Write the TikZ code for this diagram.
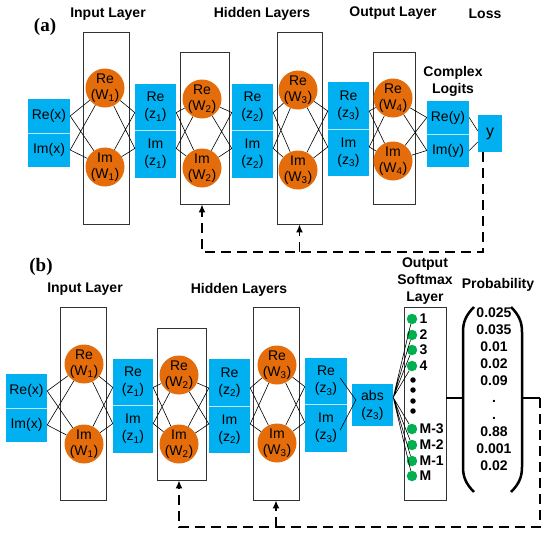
\documentclass[tikz,border=0pt]{standalone}
\usepackage{fontspec}
\setmainfont{Liberation Sans}
\newfontfamily\serifb{Liberation Serif}
\usepackage{tikz}
\usetikzlibrary{arrows.meta}
\definecolor{hblau}{RGB}{0,176,240}
\definecolor{orang}{RGB}{228,108,10}
\definecolor{gruen}{RGB}{0,176,80}
\definecolor{trennlinie}{RGB}{185,232,252}
\newcommand{\kreuz}[4] {
	\draw[verb] (#1) -- (#3) (#1) -- (#4) (#2) -- (#3) (#2) -- (#4);
}

\begin{document}
\begin{tikzpicture}[x=1pt,y=-1pt,
		blau/.style={fill=hblau,inner sep=0pt,align=center,font=\fontsize{14}{17}\selectfont},
		neuron/.style={circle,fill=orang,minimum size=39pt,inner sep=-2pt,align=center,font=\fontsize{14}{16}\selectfont},
		schicht/.style={draw=black!80,line width=0.9pt,inner sep=0pt},
		trenn/.style={draw=trennlinie,line width=1pt},
		verb/.style={line width=0.6pt},
		kopf/.style={font=\bfseries\fontsize{14}{17}\selectfont,align=center},
		rueck/.style={line width=1.3pt,dash pattern=on 10pt off 6pt,-{Latex[length=8pt,width=7pt]}},
		dick/.style={line width=2.5pt},
		punkt/.style={circle,fill=gruen,minimum size=10.5pt,inner sep=0pt},
		schwarz/.style={circle,fill=black,minimum size=5.5pt,inner sep=0pt},
		lab/.style={font=\bfseries\fontsize{14}{16}\selectfont,inner sep=2pt}]
		\useasboundingbox (0,0) rectangle (550,539);
		\node[font=\serifb\bfseries\fontsize{19}{22}\selectfont] (ta) at (45,27) {(a)};
		\node[kopf] (inA) at (108,14) {Input Layer};
		\node[kopf] (hidA) at (262,14) {Hidden Layers};
		\node[kopf] (outA) at (393,13) {Output Layer};
		\node[kopf] (lossA) at (485,14) {Loss};
		\node[kopf] (logA) at (453,81) {Complex\\Logits};
		\node[schicht,minimum width=46pt,minimum height=192pt] (l1) at (106,128) {};
		\node[schicht,minimum width=49pt,minimum height=152pt] (l2) at (204.5,128) {};
		\node[schicht,minimum width=45pt,minimum height=192pt] (l3) at (299.5,128) {};
		\node[schicht,minimum width=42pt,minimum height=152pt] (l4) at (394,128) {};
		\node[blau,minimum width=42pt,minimum height=34pt] (rex) at (49,116) {Re(x)};
		\node[blau,minimum width=42pt,minimum height=34pt] (imx) at (49,150) {Im(x)};
		\node[neuron] (rew1) at (105,88) {Re\\(W\textsubscript{1})};
		\node[neuron] (imw1) at (105,167) {Im\\(W\textsubscript{1})};
		\node[blau,minimum width=41pt,minimum height=47pt] (rez1) at (155.5,107) {Re\\(z\textsubscript{1})};
		\node[blau,minimum width=41pt,minimum height=47pt] (imz1) at (155.5,154) {Im\\(z\textsubscript{1})};
		\node[neuron] (rew2) at (202,99) {Re\\(W\textsubscript{2})};
		\node[neuron] (imw2) at (202,168) {Im\\(W\textsubscript{2})};
		\node[blau,minimum width=41pt,minimum height=47pt] (rez2) at (252.5,107) {Re\\(z\textsubscript{2})};
		\node[blau,minimum width=41pt,minimum height=47pt] (imz2) at (252.5,154) {Im\\(z\textsubscript{2})};
		\node[neuron] (rew3) at (298,90) {Re\\(W\textsubscript{3})};
		\node[neuron] (imw3) at (298,170) {Im\\(W\textsubscript{3})};
		\node[blau,minimum width=41pt,minimum height=47pt] (rez3) at (348.5,105.5) {Re\\(z\textsubscript{3})};
		\node[blau,minimum width=41pt,minimum height=47pt] (imz3) at (348.5,152.5) {Im\\(z\textsubscript{3})};
		\node[neuron] (rew4) at (393,98) {Re\\(W\textsubscript{4})};
		\node[neuron] (imw4) at (393,161) {Im\\(W\textsubscript{4})};
		\node[blau,minimum width=42pt,minimum height=33pt] (rey) at (448,117.5) {Re(y)};
		\node[blau,minimum width=42pt,minimum height=33pt] (imy) at (448,150.5) {Im(y)};
		\node[blau,minimum width=24pt,minimum height=37pt,font=\fontsize{16}{18}\selectfont] (yout) at (490,133.5) {y};
		\draw[trenn] (rex.south west) -- (rex.south east);
		\draw[trenn] (rez1.south west) -- (rez1.south east);
		\draw[trenn] (rez2.south west) -- (rez2.south east);
		\draw[trenn] (rez3.south west) -- (rez3.south east);
		\draw[trenn] (rey.south west) -- (rey.south east);
		\kreuz{rex.east}{imx.east}{rew1}{imw1}
		\kreuz{rew1}{imw1}{rez1.195}{imz1.165}
		\kreuz{rez1.-15}{imz1.15}{rew2}{imw2}
		\kreuz{rew2}{imw2}{rez2.195}{imz2.165}
		\kreuz{rez2.-15}{imz2.15}{rew3}{imw3}
		\kreuz{rew3}{imw3}{rez3.195}{imz3.165}
		\kreuz{rez3.-15}{imz3.15}{rew4}{imw4}
		\kreuz{rew4}{imw4}{rey.west}{imy.west}
		\draw[verb] (rey.east) -- ([yshift=2.5pt]yout.west) (imy.east) -- ([yshift=-8.5pt]yout.west);
		\coordinate (ra) at (202,252);
		\draw[rueck] ([xshift=-7pt]yout.south) |- (ra) -- (ra |- l2.south);
		\draw[rueck] (l3.south |- ra) -- (l3.south);
		\node[font=\serifb\bfseries\fontsize{19}{22}\selectfont] (tb) at (41,267) {(b)};
		\node[kopf] (inB) at (85,289) {Input Layer};
		\node[kopf] (hidB) at (239,290) {Hidden Layers};
		\node[kopf] (softB) at (425,281) {Output\\Softmax\\Layer};
		\node[kopf] (probB) at (498,285) {Probability};
		\node[schicht,minimum width=46pt,minimum height=193pt] (l1b) at (83,403.5) {};
		\node[schicht,minimum width=49pt,minimum height=152pt] (l2b) at (181.5,404) {};
		\node[schicht,minimum width=46pt,minimum height=193pt] (l3b) at (276,403.5) {};
		\node[schicht,minimum width=42pt,minimum height=193pt] (l4b) at (425,403.5) {};
		\node[blau,minimum width=41pt,minimum height=34pt] (rexb) at (26.5,391) {Re(x)};
		\node[blau,minimum width=41pt,minimum height=34pt] (imxb) at (26.5,425) {Im(x)};
		\node[neuron] (rew1b) at (84,364) {Re\\(W\textsubscript{1})};
		\node[neuron] (imw1b) at (84,444) {Im\\(W\textsubscript{1})};
		\node[blau,minimum width=40pt,minimum height=47pt] (rez1b) at (133,382) {Re\\(z\textsubscript{1})};
		\node[blau,minimum width=40pt,minimum height=47pt] (imz1b) at (133,429) {Im\\(z\textsubscript{1})};
		\node[neuron] (rew2b) at (179,375) {Re\\(W\textsubscript{2})};
		\node[neuron] (imw2b) at (179,444) {Im\\(W\textsubscript{2})};
		\node[blau,minimum width=41pt,minimum height=47pt] (rez2b) at (229.5,382.5) {Re\\(z\textsubscript{2})};
		\node[blau,minimum width=41pt,minimum height=47pt] (imz2b) at (229.5,429.5) {Im\\(z\textsubscript{2})};
		\node[neuron] (rew3b) at (277,365) {Re\\(W\textsubscript{3})};
		\node[neuron] (imw3b) at (277,443) {Im\\(W\textsubscript{3})};
		\node[blau,minimum width=42pt,minimum height=47pt] (rez3b) at (326,381) {Re\\(z\textsubscript{3})};
		\node[blau,minimum width=42pt,minimum height=47pt] (imz3b) at (326,428) {Im\\(z\textsubscript{3})};
		\node[blau,minimum width=41pt,minimum height=42pt] (absb) at (372.5,405) {abs\\(z\textsubscript{3})};
		\draw[trenn] (rexb.south west) -- (rexb.south east);
		\draw[trenn] (rez1b.south west) -- (rez1b.south east);
		\draw[trenn] (rez2b.south west) -- (rez2b.south east);
		\draw[trenn] (rez3b.south west) -- (rez3b.south east);
		\kreuz{rexb.east}{imxb.east}{rew1b}{imw1b}
		\kreuz{rew1b}{imw1b}{rez1b.195}{imz1b.165}
		\kreuz{rez1b.-15}{imz1b.15}{rew2b}{imw2b}
		\kreuz{rew2b}{imw2b}{rez2b.195}{imz2b.165}
		\kreuz{rez2b.-15}{imz2b.15}{rew3b}{imw3b}
		\kreuz{rew3b}{imw3b}{rez3b.195}{imz3b.165}
		\draw[verb] ([xshift=-7pt,yshift=3pt]rez3b.east) -- ([xshift=4pt,yshift=5pt]absb.west) ([xshift=-7pt,yshift=-2pt]imz3b.east) -- ([xshift=4pt,yshift=5pt]absb.west);
		\node[punkt,label={[lab]0:1}] (d1) at (412,319) {};
		\node[punkt,label={[lab]0:2}] (d2) at (412,335) {};
		\node[punkt,label={[lab]0:3}] (d3) at (412,350) {};
		\node[punkt,label={[lab]0:4}] (d4) at (412,366) {};
		\node[schwarz] (p1) at (413,380) {};
		\node[schwarz] (p2) at (413,390) {};
		\node[schwarz] (p3) at (413,401) {};
		\node[schwarz] (p4) at (413,411) {};
		\node[punkt,label={[lab]0:M-3}] (d5) at (412,429) {};
		\node[punkt,label={[lab]0:M-2}] (d6) at (412,445) {};
		\node[punkt,label={[lab]0:M-1}] (d7) at (412,461) {};
		\node[punkt,label={[lab]0:M}] (d8) at (412,476) {};
		\draw[verb] (absb.20) -- (d1) (absb.20) -- (d2) (absb.20) -- (d3) (absb.20) -- (d4) (absb.20) -- (d5) (absb.20) -- (d6) (absb.20) -- (d7) (absb.20) -- (d8);
		\node[anchor=north,inner sep=0pt,align=center,font=\bfseries\fontsize{14}{17}\selectfont] (vek) at (494,308) {0.025\\0.035\\0.01\\0.02\\0.09\\.\\.\\0.88\\0.001\\0.02};
		\draw[dick] (474,307) .. controls (466,315) and (463,322) .. (463,332) -- (463,467) .. controls (463,477) and (466,484) .. (474,492);
		\draw[dick] (511,307) .. controls (519,315) and (522,322) .. (522,332) -- (522,467) .. controls (522,477) and (519,484) .. (511,492);
		\coordinate (kl) at (463,398);
		\coordinate (kr) at (522,398);
		\coordinate (ecke) at (540,398);
		\draw[dick] ([yshift=5.5pt]l4b.east) -- (kl);
		\draw[dick] (kr) -- (ecke);
		\coordinate (rb) at (179,527);
		\draw[rueck] (ecke) |- (rb) -- (rb |- l2b.south);
		\draw[rueck] (l3b.south |- rb) -- (l3b.south);
	\end{tikzpicture}
\end{document}
